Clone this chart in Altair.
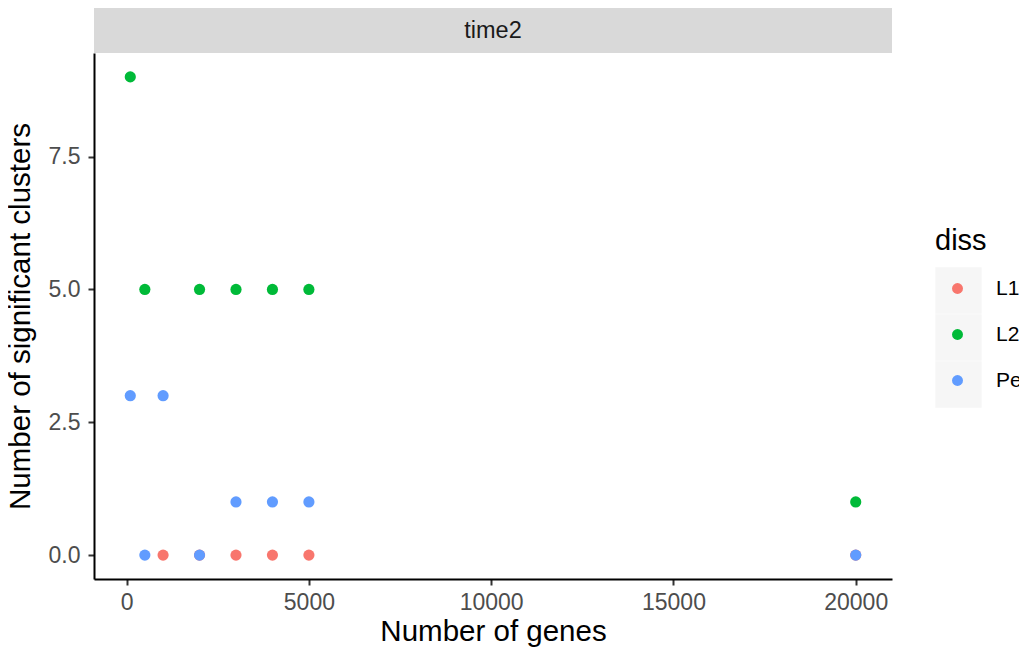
import altair as alt
import pandas as pd

# ---- data ----
diss_levels = ["L1", "L2", "Pe"]
colors = ["#F8766D", "#00BA38", "#619CFF"]

l1_genes = [1000, 2000, 3000, 4000, 5000, 20000]
l1_clusters = [0, 0, 0, 0, 0, 0]
l2_genes = [100, 500, 2000, 3000, 4000, 5000, 20000]
l2_clusters = [9, 5, 5, 5, 5, 5, 1]
pe_genes = [100, 500, 1000, 2000, 3000, 4000, 5000, 20000]
pe_clusters = [3, 0, 3, 0, 1, 1, 1, 0]

panel_label = ["time2"]
x_ticks = [0, 5000, 10000, 15000, 20000]
y_ticks = [0, 2.5, 5, 7.5]

rows = []
for name, gs, cs in [("L1", l1_genes, l1_clusters),
                     ("L2", l2_genes, l2_clusters),
                     ("Pe", pe_genes, pe_clusters)]:
    for g, c in zip(gs, cs):
        rows.append({"genes": g, "clusters": c, "diss": name})
df = pd.DataFrame(rows)

W, H = 798, 526
FONT = "Liberation Sans"

x_scale = alt.Scale(domain=[-895, 20995], nice=False, zero=False)
y_scale = alt.Scale(domain=[-0.45, 9.45], nice=False, zero=False)

points = alt.Chart(df).mark_circle(size=125, opacity=1).encode(
    x=alt.X("genes:Q", scale=x_scale,
            axis=alt.Axis(title="Number of genes", values=x_ticks, format="d",
                          labelPadding=6, titlePadding=3)),
    y=alt.Y("clusters:Q", scale=y_scale,
            axis=alt.Axis(title="Number of significant clusters", values=y_ticks,
                          format=".1f", labelPadding=8, titlePadding=13)),
    color=alt.Color("diss:N",
                    scale=alt.Scale(range=colors),
                    legend=alt.Legend(orient="none", legendX=841, legendY=174,
                                      title="diss", titleFontSize=29,
                                      titleColor="#000000", titleFont=FONT,
                                      titleFontWeight="normal", titlePadding=22,
                                      labelFontSize=21, labelColor="#000000",
                                      labelFont=FONT, labelOffset=28,
                                      symbolType="circle", symbolSize=120,
                                      symbolOffset=12, rowPadding=24,
                                      padding=0, zindex=2)),
)

# grey key backgrounds of the legend (a second, label-less legend)
key_bg = alt.Chart(alt.Data(values=[{"key": k} for k in ["a", "b", "c"]])).transform_filter(
    "false"
).mark_square().encode(
    fill=alt.Fill("key:N",
                  scale=alt.Scale(domain=["a", "b", "c"], range=["#F2F2F2"] * 3),
                  legend=alt.Legend(orient="none", legendX=841, legendY=214,
                                    title=None, labelExpr="''", labelFontSize=1,
                                    labelOffset=0, symbolType="square",
                                    symbolSize=2144, symbolStrokeWidth=0,
                                    rowPadding=0, padding=0, zindex=1))
)

strip_df = alt.Data(values=[{"panel": p} for p in panel_label])
strip_rect = alt.Chart(strip_df).mark_rect(color="#D9D9D9").encode(
    x=alt.value(0), x2=alt.value(W), y=alt.value(-45), y2=alt.value(0)
)
strip_text = alt.Chart(strip_df).mark_text(
    fontSize=23.5, font=FONT, color="#1A1A1A", baseline="middle", align="center"
).encode(x=alt.value(W / 2), y=alt.value(-22.5), text="panel:N")

chart = alt.layer(key_bg, strip_rect, strip_text, points).properties(
    width=W, height=H,
    autosize=alt.AutoSizeParams(type="none"),
    padding={"left": 86, "top": 45, "right": 127, "bottom": 68},
).configure_view(stroke=None).configure_axis(
    grid=False,
    domainColor="#000000", domainWidth=2,
    tickColor="#333333", tickWidth=2, tickSize=6,
    labelFont=FONT, labelFontSize=23, labelColor="#4D4D4D",
    titleFont=FONT, titleFontSize=29.5, titleColor="#000000", titleFontWeight="normal",
)

chart.save("out.html", embed_options={"renderer": "svg", "actions": False})
